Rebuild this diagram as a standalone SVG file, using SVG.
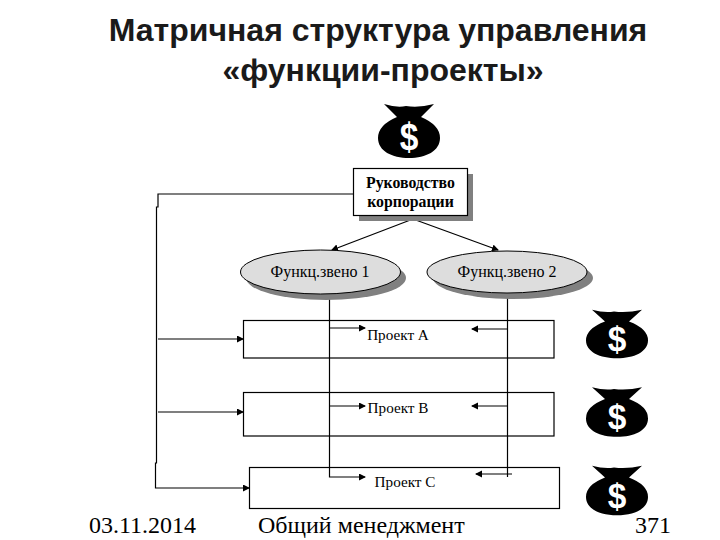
<svg xmlns="http://www.w3.org/2000/svg" xmlns:xlink="http://www.w3.org/1999/xlink" width="720" height="540" viewBox="0 0 720 540">
<style>
.t{font-family:"Liberation Sans",Arial,sans-serif;font-weight:bold;font-size:32px;fill:#1a1a1a;text-anchor:middle}
.f{font-family:"Liberation Serif","Times New Roman",serif;font-size:24px;fill:#000}
.l{font-family:"Liberation Serif","Times New Roman",serif;fill:#000;text-anchor:middle}
.b{font-weight:bold;font-size:15.8px}
.o{font-size:16px}
.p{font-size:15.2px}
.box{fill:#fff;stroke:#000;stroke-width:1.2}
.sh{fill:#808080}
.el{fill:#ddd;stroke:#000;stroke-width:1}
.c{fill:none;stroke:#000;stroke-width:1.2}
.d{font-family:"Liberation Sans",Arial,sans-serif;font-weight:bold;font-size:38px;fill:#fff;text-anchor:middle}
</style>
<defs>
<marker id="a" markerUnits="userSpaceOnUse" markerWidth="8" markerHeight="8" refX="6" refY="3.500" orient="auto"><path d="M0 0L7 3.500L0 7Z" fill="#000"/></marker>
<g id="bag">
<path d="M-25 -27Q-12 -23 -3 -25Q10 -23 25 -27L12 -14Q31 -6 31 7C31 20 17 27 0 27C-17 27 -31 20 -31 7Q-31 -6 -12 -14Z" fill="#000"/>
<text class="d" transform="translate(0 19) scale(.88 1)">$</text>
</g>
</defs>
<text class="t" x="378" y="41">Матричная структура управления</text>
<text class="t" x="383" y="81">«функции-проекты»</text>

<g id="connectors">
<path class="c" d="M355 194H158V207H156.500V463H155.500V488H249" marker-end="url(#a)"/>
<path class="c" d="M158 339H243" marker-end="url(#a)"/>
<path class="c" d="M158 412H243" marker-end="url(#a)"/>
<path class="c" d="M413 219L332 250" marker-end="url(#a)"/>
<path class="c" d="M413 219L498 250" marker-end="url(#a)"/>
</g>

<g id="project-a"><rect class="box" x="243.500" y="320.500" width="310.500" height="37.500"/><text class="l p" x="398" y="340">Проект А</text></g>
<g id="project-b"><rect class="box" x="243.500" y="392.500" width="310.500" height="43.500"/><text class="l p" x="398" y="413">Проект В</text></g>
<g id="project-c"><rect class="box" x="249.500" y="467.500" width="310" height="41"/><text class="l p" x="405" y="487">Проект С</text></g>

<g id="connectors-functions">
<path class="c" d="M329.500 294V477H365" marker-end="url(#a)"/>
<path class="c" d="M329.500 328H365" marker-end="url(#a)"/>
<path class="c" d="M329.500 406H365" marker-end="url(#a)"/>
<path class="c" d="M507.500 293V477"/>
<path class="c" d="M507.500 329H472" marker-end="url(#a)"/>
<path class="c" d="M507.500 406H472" marker-end="url(#a)"/>
<path class="c" d="M512 474H476" marker-end="url(#a)"/>
</g>

<g id="bag-top"><use href="#bag" xlink:href="#bag" x="409" y="131"/></g>
<g id="bag-a" transform="translate(617 334) scale(1 .9)"><use href="#bag" xlink:href="#bag"/></g>
<g id="bag-b" transform="translate(617 412) scale(1 .92)"><use href="#bag" xlink:href="#bag"/></g>
<g id="bag-c" transform="translate(617 490.500) scale(1 .92)"><use href="#bag" xlink:href="#bag"/></g>

<g id="corp"><rect class="sh" x="359" y="174" width="114" height="47"/><rect class="box" x="353.500" y="168.500" width="114" height="47"/><text class="l b" x="410.500" y="188">Руководство</text><text class="l b" x="410.500" y="207">корпорации</text></g>
<g id="func-1"><ellipse class="sh" cx="326" cy="278" rx="80" ry="22"/><ellipse class="el" cx="320.500" cy="272" rx="80" ry="22"/><text class="l o" x="320" y="277">Функц.звено 1</text></g>
<g id="func-2"><ellipse class="sh" cx="513" cy="278" rx="80" ry="21"/><ellipse class="el" cx="507" cy="272" rx="80" ry="21"/><text class="l o" x="507" y="277">Функц.звено 2</text></g>

<text class="f" x="89" y="533">03.11.2014</text>
<text class="f" x="258" y="533">Общий менеджмент</text>
<text class="f" x="635" y="533">371</text>
</svg>
